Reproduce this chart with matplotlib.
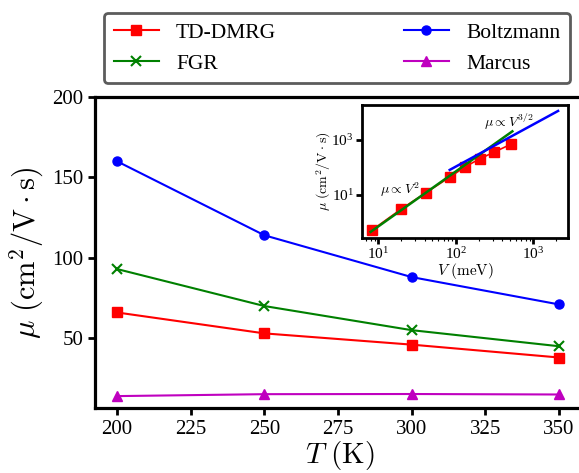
import matplotlib
matplotlib.use("Agg")
import matplotlib.pyplot as plt

plt.rcParams["font.family"] = ["Liberation Serif", "DejaVu Serif"]
plt.rcParams["mathtext.fontset"] = "cm"

# main panel data
temps = [200, 250, 300, 350]
mu_dmrg = [66, 53, 46, 38]
mu_fgr = [93, 70, 55, 45]
mu_boltz = [160, 114, 88, 71]
mu_marcus = [14, 15.2, 15.3, 15]

# inset data
v_meV = [8.4, 20, 41, 85, 132, 205, 315, 520]
mu_v = [0.53, 3.1, 11.8, 45, 104, 205, 360, 700]
fit2_v = [8, 540]
fit2_mu = [0.45, 2050]
fit32_v = [84, 2100]
fit32_mu = [81, 11300]

W, H = 579, 473
fig = plt.figure(figsize=(W / 100, H / 100), dpi=100)

ax = fig.add_axes([95 / W, (H - 408) / H, (585 - 95) / W, (408 - 97) / H])
ax.plot(temps, mu_dmrg, color="red", marker="s", ms=7, lw=1.5, label="TD-DMRG")
ax.plot(temps, mu_fgr, color="green", marker="x", ms=7, mew=1.5, lw=1.5, label="FGR")
ax.plot(temps, mu_boltz, color="blue", marker="o", ms=6.5, lw=1.5, label="Boltzmann")
ax.plot(temps, mu_marcus, color="m", marker="^", ms=7, lw=1.5, label="Marcus")

ax.set_xlim(192.5, 358.8)
ax.set_ylim(6.6, 200)
ax.set_xticks([200, 225, 250, 275, 300, 325, 350])
ax.set_yticks([50, 100, 150, 200])
for s in ax.spines.values():
    s.set_linewidth(2.3)
ax.tick_params(axis="both", which="major", direction="out", length=5, width=2, labelsize=15)
ax.set_xlabel(r"$T\ (\mathrm{K})$", fontsize=21, labelpad=0)
ax.set_ylabel(r"$\mu\ (\mathrm{cm}^2/\mathrm{V}\cdot\mathrm{s})$", fontsize=22, labelpad=4)

handles, labels = ax.get_legend_handles_labels()
leg = fig.legend(handles, labels, ncol=2, loc="upper left",
                 bbox_to_anchor=(104 / W, 1 - 13 / H, 466 / W, 0), mode="expand",
                 fontsize=15.5, handlelength=2.1, handletextpad=0.8, labelspacing=0.5,
                 frameon=True, fancybox=True, borderaxespad=0, borderpad=0.45)
leg.get_frame().set_edgecolor("#333333")
leg.get_frame().set_linewidth(2)

# inset
ins = fig.add_axes([362 / W, (H - 238) / H, (568 - 362) / W, (238 - 105) / H])
ins.plot(v_meV, mu_v, color="red", marker="s", ms=7, lw=1.2)
ins.plot(fit2_v, fit2_mu, color="green", lw=1.8)
ins.plot(fit32_v, fit32_mu, color="blue", lw=1.8)
ins.set_xscale("log")
ins.set_yscale("log")
ins.set_xlim(6.2, 2820)
ins.set_ylim(0.27, 18600)
ins.set_xticks([10, 100, 1000])
ins.set_yticks([10, 1000])
ins.yaxis.set_minor_locator(matplotlib.ticker.NullLocator())
for s in ins.spines.values():
    s.set_linewidth(2)
ins.tick_params(axis="both", which="major", direction="out", length=4, width=2, labelsize=11, pad=2)
ins.tick_params(axis="x", which="minor", direction="out", length=2, width=0.8)
ins.set_xlabel(r"$V\ (\mathrm{meV})$", fontsize=11, labelpad=-1)
ins.set_ylabel(r"$\mu\ (\mathrm{cm}^2/\mathrm{V}\cdot\mathrm{s})$", fontsize=10, labelpad=-1)
ins.text(10.5, 15, r"$\mu\propto V^2$", fontsize=10, va="center", ha="left")
ins.text(230, 4500, r"$\mu\propto V^{3/2}$", fontsize=10, va="center", ha="left")

fig.savefig("out.png", dpi=100)
